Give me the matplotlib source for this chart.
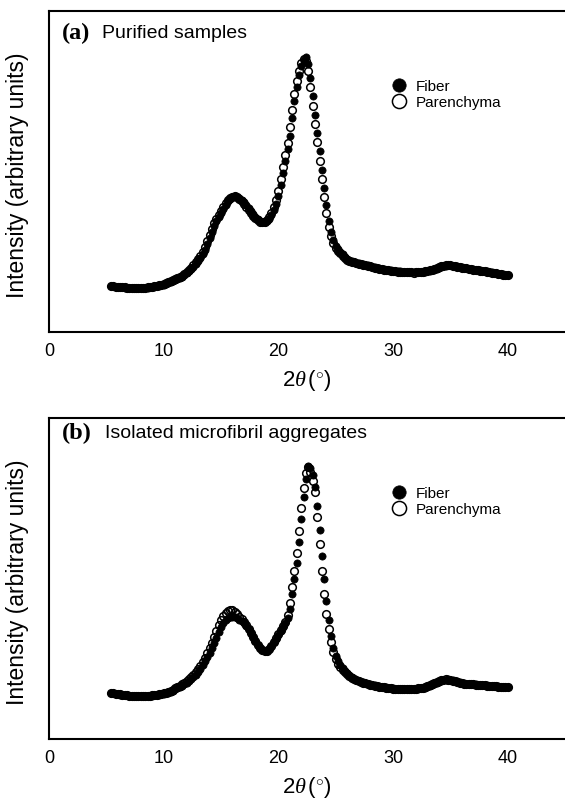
import numpy as np
import matplotlib
matplotlib.use("Agg")
import matplotlib.pyplot as plt

plt.rcParams['font.family'] = ['Liberation Sans', 'DejaVu Sans']
plt.rcParams['mathtext.fontset'] = 'custom'
plt.rcParams['mathtext.rm'] = 'Liberation Sans'
plt.rcParams['mathtext.it'] = 'Liberation Serif:italic'

# ---- data (2theta sampled every 0.2 deg from 5.4 to 40.0) ----
START_2THETA = 5.4
STEP_2THETA = 0.2

a_fiber = [
    46, 46, 45.5, 45, 45, 45, 44.5, 44.5, 44.5, 44,
    44, 44, 44, 44, 44, 44.5, 44.5, 45, 45, 45.5,
    46, 46, 47, 47.5, 48, 49, 50, 51, 52, 53,
    54, 55.5, 57, 59, 61, 63, 65.5, 68, 71, 74,
    78, 82, 88, 94, 100, 106, 111, 115, 119, 123,
    127, 131, 133, 135, 136, 135.5, 134, 132, 130, 127,
    124, 121, 118, 115, 113, 111, 110, 110, 111, 113,
    117, 122, 128, 136, 147, 159, 171, 183, 196, 214,
    231, 245, 257, 266, 272, 275, 268, 254, 236, 217,
    199, 181, 162, 144, 127, 111, 100, 92, 86, 83,
    80, 78, 75, 73, 72, 71, 70, 69.5, 69, 68.5,
    68, 67.5, 67, 66, 65.5, 65, 64.5, 64, 63.5, 63,
    62.5, 62, 62, 61.5, 61, 61, 61, 60.5, 60.5, 60,
    60, 60, 60, 60, 60, 60, 60, 60.5, 61, 61.5,
    62, 62.5, 63.5, 64, 65, 66, 66.5, 67, 67, 66.5,
    66, 66, 65.5, 65, 64.5, 64, 63.5, 63, 63, 62.5,
    62, 62, 61.5, 61, 61, 60.5, 60, 59.5, 59, 58.5,
    58, 58, 57.5, 57,
]
a_parenchyma = [
    46.5, 46, 45.5, 45.5, 45, 45, 45, 44.5, 44.5, 44.5,
    44, 44, 44, 44, 44, 44.5, 45, 45, 45.5, 46,
    46.5, 47, 47.5, 48, 49, 50, 51, 52, 53, 54,
    55, 56.5, 58, 60, 62, 64.5, 67, 70, 73, 76,
    80, 85, 91, 97, 103, 109, 113, 117, 121, 125,
    129, 132, 134, 135.5, 136, 135, 133, 131, 128.5, 125.5,
    122.5, 119.5, 116.5, 114, 112, 110.5, 110, 110.5, 112, 115,
    119.5, 125, 132, 141.5, 153, 165, 177, 189.5, 205, 222.5,
    238, 251, 261.5, 269, 273.5, 271.5, 261, 245, 226.5, 208,
    190, 171.5, 153, 135.5, 119, 105.5, 96, 89, 84.5, 81.5,
    79, 76.5, 74, 72.5, 71.5, 70.5, 70, 69, 68.5, 68,
    67.5, 67, 66.5, 66, 65.5, 64.5, 64, 63.5, 63, 62.5,
    62.5, 62, 61.5, 61, 61, 60.5, 60.5, 60.5, 60, 60,
    60, 60, 59.5, 60, 60, 60, 60.5, 61, 61.5, 62,
    62.5, 63, 64, 65, 66, 66.5, 67, 67.5, 67, 66.5,
    66, 65.5, 65, 64.5, 64, 64, 63.5, 63, 62.5, 62,
    62, 61.5, 61, 61, 60.5, 60, 59.5, 59, 59, 58.5,
    58, 57.5, 57.5, 57,
]
b_fiber = [
    46, 46, 45.5, 45, 44.5, 44.5, 44, 44, 43.5, 43.5,
    43, 43, 43, 43, 43, 43, 43, 43.5, 43.5, 44,
    44, 44.5, 45, 45, 46, 46.5, 47.5, 48.5, 50, 51,
    52, 53.5, 55, 56, 58, 60, 62, 64.5, 67, 70,
    74, 78, 82, 86, 91, 96, 101, 107, 112, 116,
    119, 121, 122, 122.5, 122, 121, 119.5, 118, 116, 113,
    110, 106, 102, 98, 94, 91, 89, 88, 88.5, 90,
    93, 97, 100, 104, 108, 112, 116, 121, 130, 145,
    160, 176, 197, 220, 242, 260, 273, 271, 264, 252,
    233, 209, 183, 160, 138, 119, 103, 91, 83, 78,
    74, 71, 68, 66, 64, 62, 60.5, 59, 58, 57.5,
    57, 56, 55.5, 55, 54.5, 54, 53.5, 53, 52.5, 52,
    52, 51.5, 51, 51, 50.5, 50.5, 50, 50, 50, 50,
    50, 50, 50, 50.5, 50.5, 51, 51, 51.5, 52, 53,
    54, 55, 56, 57, 58, 59, 59.5, 60, 59.5, 59,
    58.5, 58, 57, 56.5, 56, 55.5, 55.5, 55, 55, 55,
    54.5, 54.5, 54, 54, 54, 53.5, 53.5, 53, 53, 53,
    52.5, 52.5, 52, 52,
]
b_parenchyma = [
    46.5, 46, 45.5, 45, 45, 44.5, 44, 44, 43.5, 43.5,
    43, 43, 43, 43, 43, 43, 43.5, 43.5, 44, 44,
    44.5, 45, 45.5, 46, 46.5, 47, 48, 49.5, 51, 52,
    53.5, 55, 56.5, 58, 60, 62, 64.5, 67, 70, 73.5,
    77.5, 81.5, 86, 91, 96, 102, 108, 114, 119, 123,
    126, 128.5, 129.5, 129, 127, 125, 122.5, 120, 117, 114,
    110.5, 106.5, 102, 98, 94, 91, 89, 88, 88.5, 90,
    93.5, 97, 101, 105, 109, 113, 117.5, 124, 136, 152,
    168, 186.5, 208.5, 231, 251, 266, 272, 267, 258, 247,
    222, 195, 168, 145, 125, 110, 97, 87, 80, 75,
    72, 69.5, 67, 65, 63, 61.5, 60, 59, 58, 57,
    56.5, 56, 55, 54.5, 54, 53.5, 53, 52.5, 52, 52,
    51.5, 51, 51, 50.5, 50.5, 50, 50, 50, 50, 50,
    50, 50, 50.5, 50.5, 51, 51, 51.5, 52, 53, 54,
    55, 56, 57, 58, 59, 59.5, 60, 59.5, 59, 58.5,
    58, 57, 56.5, 56, 55.5, 55.5, 55, 55, 55, 54.5,
    54.5, 54, 54, 54, 53.5, 53.5, 53, 53, 53, 52.5,
    52.5, 52, 52, 52,
]

x_ticks = [0, 10, 20, 30, 40]
series_labels = ['Fiber', 'Parenchyma']
panel_letters = ['(a)', '(b)']
panel_titles = ['Purified samples', 'Isolated microfibril aggregates']

n = len(a_fiber)
two_theta = np.round(START_2THETA + STEP_2THETA * np.arange(n), 1)

W, H = 565, 804
fig = plt.figure(figsize=(W / 100, H / 100), dpi=100)

panels = [
    dict(top=12, bottom=333, fib=a_fiber, par=a_parenchyma, title_dy=21),
    dict(top=419, bottom=740, fib=b_fiber, par=b_parenchyma, title_dy=14),
]

left_px = 49
for i, p in enumerate(panels):
    h = p['bottom'] - p['top']
    ax = fig.add_axes([left_px / W, (H - p['bottom']) / H, (W - left_px) / W, h / H])
    ax.set_xlim(0, 45)
    ax.set_ylim(0, h)
    ax.plot(two_theta, p['fib'], 'o', ms=5.2, color='black', mec='black', mew=0.5,
            label=series_labels[0], zorder=2)
    ax.plot(two_theta, p['par'], 'o', ms=5.5, mfc='none', mec='black', mew=1.1,
            label=series_labels[1], zorder=3)
    for s in ['left', 'bottom', 'top']:
        ax.spines[s].set_linewidth(1.5)
    ax.spines['right'].set_visible(False)
    ax.set_xticks(x_ticks)
    ax.set_yticks([])
    ax.tick_params(axis='x', length=0, pad=7, labelsize=13)
    ax.set_xlabel(r'$\mathrm{2}\theta\,(^{\circ})$', fontsize=16, labelpad=6)

    ty = 1 - p['title_dy'] / h
    ax.text(0.024, ty, panel_letters[i], transform=ax.transAxes, fontsize=17.5,
            fontweight='bold', family='Liberation Serif', va='center', ha='left')
    ax.text(0.102 if i == 0 else 0.108, ty, panel_titles[i], transform=ax.transAxes,
            fontsize=14, va='center', ha='left')

    leg = ax.legend(loc='center left', bbox_to_anchor=(0.667, 1 - 83 / h),
                    frameon=False, fontsize=11, markerscale=1.85, handlelength=0.8,
                    handletextpad=0.7, labelspacing=0.15, borderpad=0, borderaxespad=0)

    fig.text(18 / W, 1 - ((p['top'] + p['bottom']) / 2 + 3) / H,
             'Intensity (arbitrary units)', rotation=90, ha='center', va='center',
             fontsize=16.5)

fig.savefig('out.png', dpi=100)
